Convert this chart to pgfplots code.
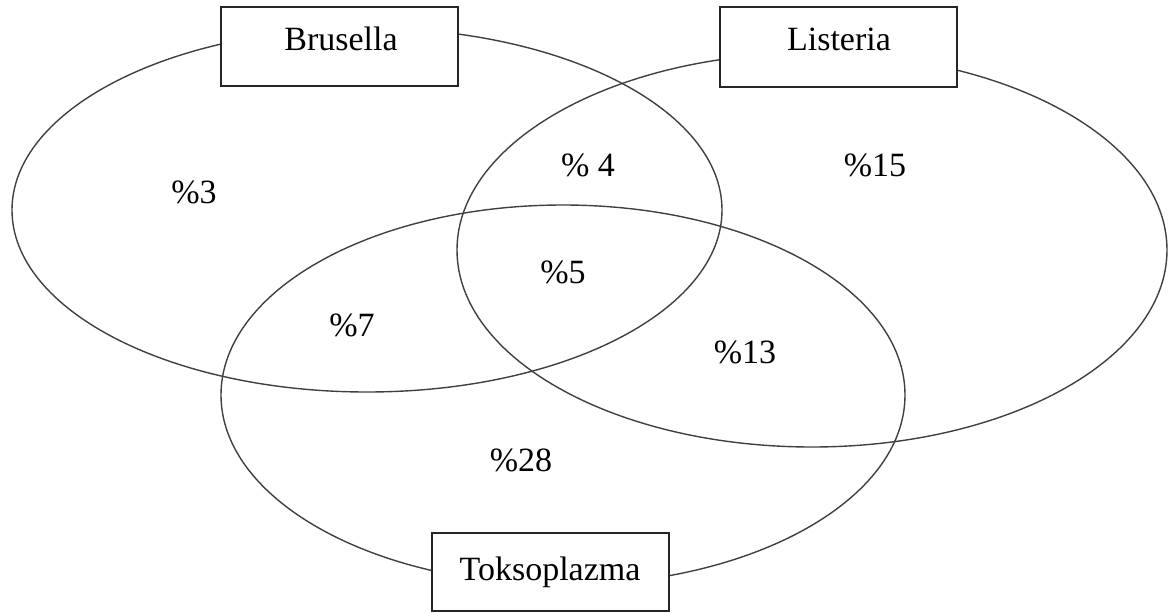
\documentclass[border=0pt]{standalone}
\usepackage{pgfplots}
\pgfplotsset{compat=1.18}
\usepackage{fontspec}
\setmainfont{Liberation Serif}
\begin{document}
\begin{tikzpicture}
\begin{axis}[
  scale only axis, width=1173pt, height=613pt,
  xmin=0, xmax=1173, ymin=0, ymax=613, y dir=reverse,
  hide axis, clip=false,
  font=\fontsize{34}{40}\selectfont,
]
\path (axis cs:0,0) rectangle (axis cs:1173,613);
% ellipses
\draw[line width=1.4pt, black!75] (axis cs:367,210) ellipse [x radius=355, y radius=182];
\draw[line width=1.4pt, black!75] (axis cs:812,250) ellipse [x radius=355, y radius=197];
\draw[line width=1.4pt, black!75] (axis cs:563,395) ellipse [x radius=342, y radius=190];
% boxes
\draw[line width=1.6pt, black!85, fill=white] (axis cs:221,7) rectangle (axis cs:458,86);
\draw[line width=1.6pt, black!85, fill=white] (axis cs:720,7) rectangle (axis cs:957,87);
\draw[line width=1.6pt, black!85, fill=white] (axis cs:432,533) rectangle (axis cs:669,611);
% region labels
\addplot[only marks, mark=none, point meta=explicit symbolic,
  nodes near coords, nodes near coords style={anchor=base, font=\fontsize{34}{40}\selectfont}]
  coordinates {
   (341,50) [Brusella]
   (839,50) [Listeria]
   (550,580) [Toksoplazma]
   (194,203) [\%3]
   (588,176) [\%\ 4]
   (875,176) [\%15]
   (563,283) [\%5]
   (352,336) [\%7]
   (745,363) [\%13]
   (521,471) [\%28]
  };
\end{axis}
\end{tikzpicture}
\end{document}
